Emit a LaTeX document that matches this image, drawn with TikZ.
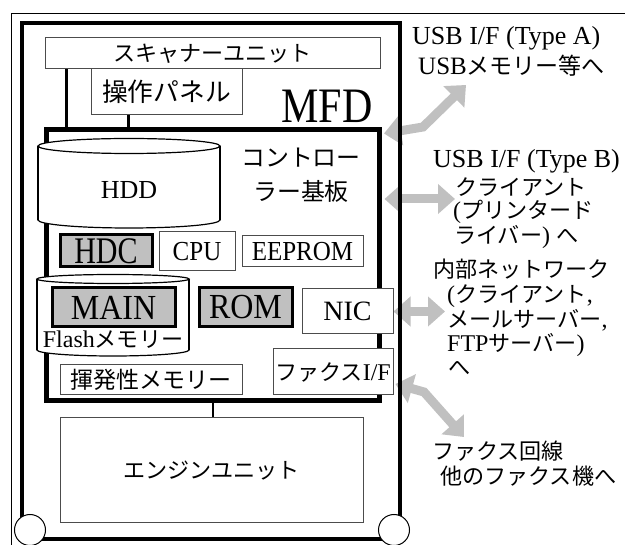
\documentclass[tikz,border=0pt]{standalone}
\usepackage{fontspec}
\setmainfont{Liberation Serif}
\newfontfamily\jp[Scale=0.92]{Noto Sans CJK JP}
\newcommand\J[1]{{\jp #1}}
\newcommand\fs[1]{\fontsize{#1}{#1}\selectfont}
\usetikzlibrary{arrows.meta,calc}
\pgfdeclarelayer{bg}
\pgfsetlayers{bg,main}
\definecolor{arrgray}{RGB}{192,192,192}
\definecolor{boxgray}{RGB}{192,192,192}
\begin{document}
\begin{tikzpicture}[x=1pt,y=-1pt,
  box/.style={draw=black!70, line width=1pt, fill=white, inner sep=0pt},
  graybox/.style={draw=black, line width=3pt, fill=boxgray, inner sep=0pt},
  frame/.style={draw=black, inner sep=0pt},
  conn/.style={line width=2.5pt},
  cyl/.style={line width=1.2pt},
  wheel/.style={circle, draw=black, fill=white, line width=1pt, minimum size=31pt, inner sep=0pt},
  garrow/.style={draw=arrgray, line width=9pt,
    arrows={Triangle[width=29pt,length=17pt]-Triangle[width=29pt,length=17pt]}},
  lbl/.style={anchor=base west, inner sep=0pt}
]
\useasboundingbox (0,0) rectangle (625,545);

% thin outer frame
\draw[line width=1pt] (625,14) -- (11,14) -- (11,545);

% MFD frame
\node[frame, line width=4.5pt, minimum width=378pt, minimum height=516pt] (mfd) at (211,281) {};
\node[wheel] (wl) at (30,530) {};
\node[wheel] (wr) at (394,530) {};

% scanner and panel
\node[box, minimum width=335pt, minimum height=31pt, font=\fs{24}] (scan) at (212.5,53.5) {\J{スキャナーユニット}};
\node[box, minimum width=151pt, minimum height=46pt, font=\fs{28}] (panel) at (166.5,92) {\J{操作パネル}};
\node[inner sep=0pt, font=\fs{42}] (mfdl) at (327,106) {\scalebox{1}[1.18]{MFD}};

% controller board
\node[frame, line width=5pt, minimum width=333.5pt, minimum height=271.5pt] (ctrl) at (212.75,265.25) {};
\node[inner sep=0pt, align=center, font=\fontsize{26}{34}\selectfont] (ctrll) at (301,175) {\J{コントロー}\\\J{ラー基板}};

% connectors
\coordinate (s1) at ($(scan.south west)+(22,0)$);
\draw[conn] (s1) -- (s1 |- ctrl.north);
\coordinate (p1) at ($(panel.south)+(-38,0)$);
\draw[conn] (p1) -- (p1 |- ctrl.north);

% HDD cylinder
\draw[cyl, fill=white] (129,220) ellipse [x radius=91, y radius=8];
\fill[white] (38.6,146) rectangle (219.4,220);
\draw[cyl] (38,146) -- (38,220) (220,146) -- (220,220);
\draw[cyl, fill=white] (129,146) ellipse [x radius=91, y radius=7.5];
\node[inner sep=0pt, font=\fs{26}] (hdd) at (129,190) {HDD};

% HDC CPU EEPROM
\node[graybox, minimum width=92pt, minimum height=32pt, font=\fs{30}] (hdc) at (106,251) {\scalebox{1}[1.25]{HDC}};
\node[box, minimum width=76pt, minimum height=39pt, font=\fs{25}] (cpu) at (197,251.5) {\scalebox{1}[1.1]{CPU}};
\node[box, minimum width=121pt, minimum height=31pt, font=\fs{25}] (eeprom) at (302.5,251.5) {\scalebox{1}[1.1]{EEPROM}};

% Flash cylinder
\draw[cyl, fill=white] (113,350) ellipse [x radius=76, y radius=6];
\fill[white] (37.6,279) rectangle (188.4,350);
\draw[cyl] (37,279) -- (37,350) (189,279) -- (189,350);
\draw[cyl, fill=white] (113,279) ellipse [x radius=76, y radius=4.5];
\node[graybox, minimum width=123pt, minimum height=39pt, font=\fs{32}] (main) at (113.5,307.5) {\scalebox{1}[1.1]{MAIN}};
\node[inner sep=0pt, font=\fs{24}] (flash) at (113,340) {Flash\J{メモリー}};

% ROM NIC
\node[graybox, minimum width=93pt, minimum height=39pt, font=\fs{32}] (rom) at (245.5,307.5) {\scalebox{1}[1.1]{ROM}};
\node[box, minimum width=91pt, minimum height=45pt, font=\fs{28}] (nic) at (347.5,311.5) {NIC};

% volatile memory, fax I/F
\node[box, minimum width=182pt, minimum height=30pt, font=\fs{25}] (vmem) at (151,380) {\J{揮発性メモリー}};
\node[box, minimum width=120pt, minimum height=46pt, font=\fs{24}] (fax) at (333,372) {\J{ファクス}I/F};

% engine
\node[box, minimum width=303pt, minimum height=105pt, font=\fs{24}] (engine) at (211.5,470.5) {\J{エンジンユニット}};
\draw[conn] (ctrl.south) -- (ctrl.south |- engine.north);

% right-hand texts
\node[lbl, font=\fs{26}] (ta1) at (412,45) {USB I/F (Type A)};
\node[lbl, font=\fs{25}] (ta2) at (418,75) {USB\J{メモリー等へ}};
\node[lbl, font=\fs{26}] (tb1) at (433,168) {USB I/F (Type B)};
\node[lbl, font=\fs{24}] (tb2) at (455,195.5) {\J{クライアント}};
\node[lbl, font=\fs{24}] (tb3) at (453,218.5) {(\J{プリンタード}};
\node[lbl, font=\fs{24}] (tb4) at (454,243.5) {\J{ライバー}) \J{へ}};
\node[lbl, font=\fs{24}] (tn1) at (433,278) {\J{内部ネットワーク}};
\node[lbl, font=\fs{24}] (tn2) at (447,303) {(\J{クライアント},};
\node[lbl, font=\fs{24}] (tn3) at (447,328) {\J{メールサーバー},};
\node[lbl, font=\fs{24}] (tn4) at (447,352) {FTP\J{サーバー})};
\node[lbl, font=\fs{24}] (tn5) at (448,376) {\J{へ}};
\node[lbl, font=\fs{24}] (tf1) at (432,459.5) {\J{ファクス回線}};
\node[lbl, font=\fs{24}] (tf2) at (440,484.5) {\J{他のファクス機へ}};

% gray double arrows (behind the frames)
\begin{pgfonlayer}{bg}
\fill[white] (0,0) rectangle (625,545);
\coordinate (uaS) at ($(ctrl.north east)+(2,6.5)$);
\coordinate (uaB) at (423,127);
\coordinate (uaE) at (466,85);
\draw[garrow] (uaS) -- (uaB) -- (uaE);
\coordinate (ubE) at (455,199);
\coordinate (ubS0) at (ubE -| ctrl.east);
\draw[garrow] ($(ubS0)+(2.5,0)$) -- (ubE);
\coordinate (unE) at (445,311.5);
\draw[garrow] (nic.east) -- (unE);
\coordinate (ufS) at ($(fax.east)+(2,12)$);
\coordinate (ufB) at (424,392);
\coordinate (ufE) at (464,437);
\draw[garrow] (ufS) -- (ufB) -- (ufE);
\end{pgfonlayer}
\end{tikzpicture}
\end{document}
